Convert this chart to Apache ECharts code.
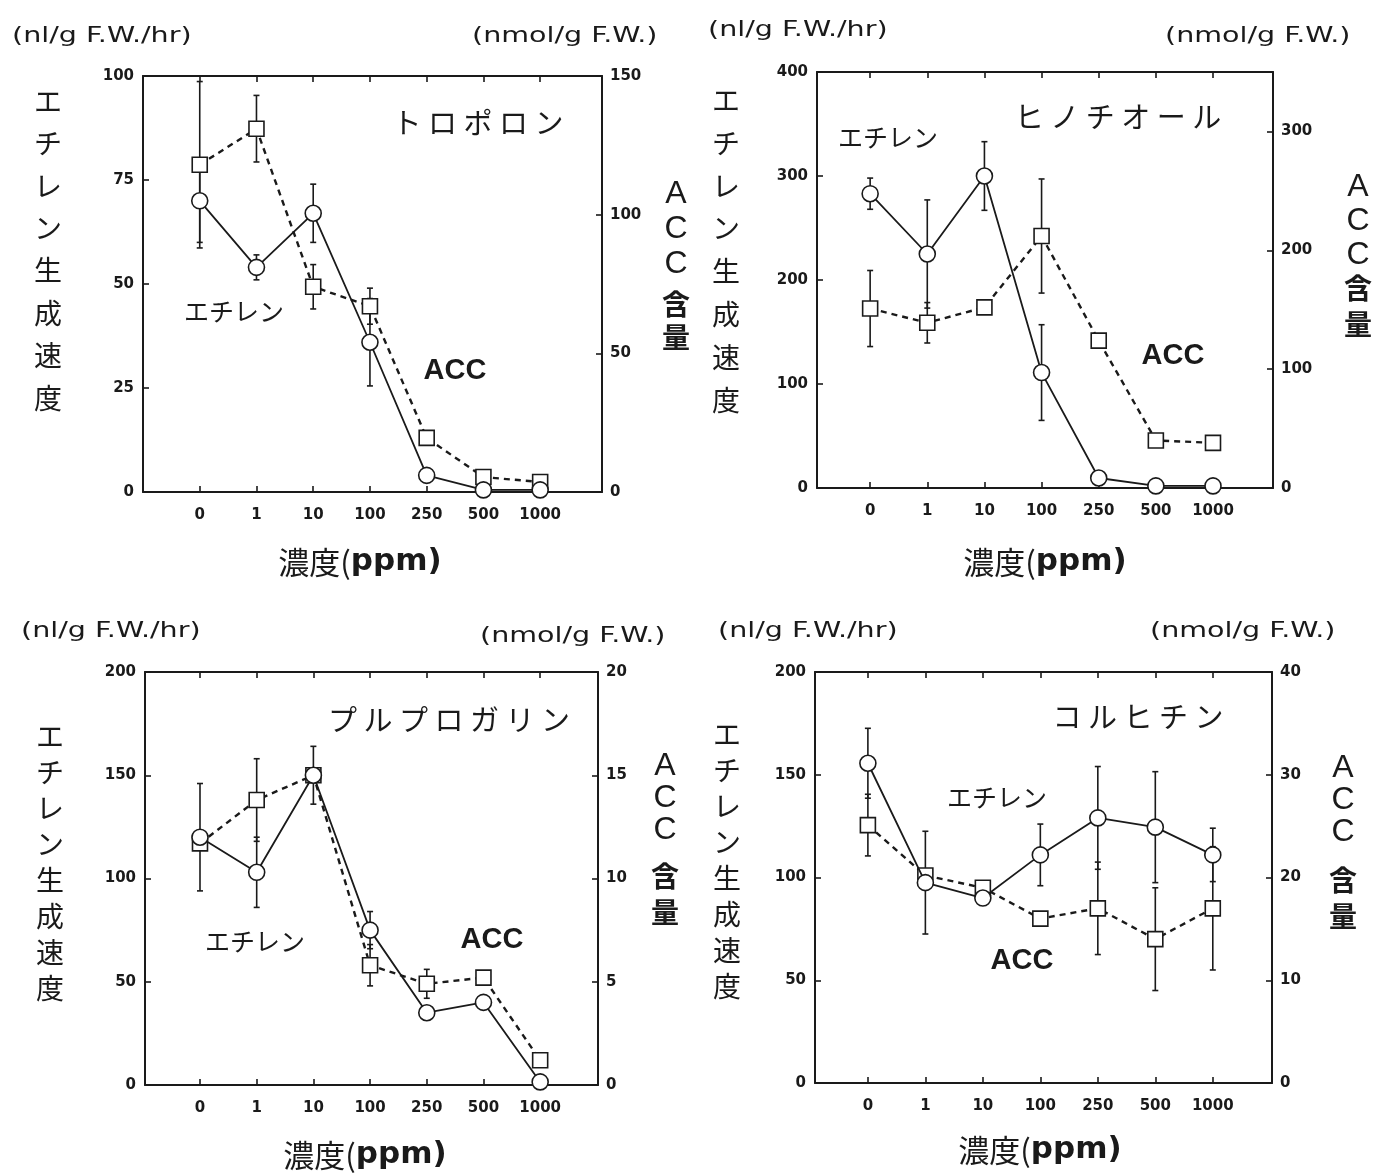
<!DOCTYPE html>
<html>
<head>
<meta charset="utf-8">
<script src="https://cdn.jsdelivr.net/npm/echarts@6/dist/echarts.min.js"></script>
<style>
html,body{margin:0;padding:0;background:#fff;}
#chart{width:1373px;height:1174px;}
</style>
</head>
<body>
<div id="chart"></div>
<script>
// ---- shared categories ----
const concs = ['0', '1', '10', '100', '250', '500', '1000'];
const xIdx = [0, 1, 2, 3, 4, 5, 6];

// ---- Panel 1: トロポロン ----
const tropEth = [70, 54, 67, 36, 4, 0.5, 0.5];
const tropEthErr = [10, 3, 7, 10.5, 0, 0, 0];
const tropAcc = [118, 131, 74, 67, 19.5, 5.4, 3.6];
const tropAccErr = [30, 12, 8, 6.5, 0, 0, 0];
const tropEthTicks = [0, 25, 50, 75, 100];
const tropAccTicks = [0, 50, 100, 150];

// ---- Panel 2: ヒノチオール ----
const hinoEth = [283, 225, 300, 111, 9.6, 2, 2];
const hinoEthErr = [15, 52, 33, 46, 0, 0, 0];
const hinoAcc = [151, 139, 152, 212, 124, 40, 38];
const hinoAccErr = [32, 17, 0, 48, 0, 0, 0];
const hinoEthTicks = [0, 100, 200, 300, 400];
const hinoAccTicks = [0, 100, 200, 300];

// ---- Panel 3: プルプロガリン ----
const purpEth = [120, 103, 150, 75, 35, 40, 1.5];
const purpEthErr = [26, 17, 14, 9, 0, 0, 0];
const purpAcc = [11.7, 13.8, 15.0, 5.8, 4.9, 5.2, 1.2];
const purpAccErr = [0, 2, 0, 1, 0.7, 0, 0];
const purpEthTicks = [0, 50, 100, 150, 200];
const purpAccTicks = [0, 5, 10, 15, 20];

// ---- Panel 4: コルヒチン ----
const colcEth = [155.6, 97.5, 90, 111, 129, 124.5, 111];
const colcEthErr = [17, 25, 0, 15, 25, 27, 13];
const colcAcc = [25.1, 20.2, 19.0, 16.0, 17.0, 14.0, 17.0];
const colcAccErr = [3, 0, 0, 0, 4.5, 5, 6];
const colcEthTicks = [0, 50, 100, 150, 200];
const colcAccTicks = [0, 10, 20, 30, 40];

const INK = '#1a1a1a';
const panels = [
  {grid: {left: 143, top: 76, width: 459, height: 416}, xMin: -1.0, xMax: 7.09, ethMax: 100, accMax: 150,
   ethTicks: tropEthTicks, accTicks: tropAccTicks, eth: tropEth, ethErr: tropEthErr, acc: tropAcc, accErr: tropAccErr},
  {grid: {left: 817, top: 72, width: 456, height: 416}, xMin: -0.93, xMax: 7.05, ethMax: 400, accMax: 350,
   ethTicks: hinoEthTicks, accTicks: hinoAccTicks, eth: hinoEth, ethErr: hinoEthErr, acc: hinoAcc, accErr: hinoAccErr},
  {grid: {left: 145, top: 672, width: 453, height: 413}, xMin: -0.97, xMax: 7.02, ethMax: 200, accMax: 20,
   ethTicks: purpEthTicks, accTicks: purpAccTicks, eth: purpEth, ethErr: purpEthErr, acc: purpAcc, accErr: purpAccErr},
  {grid: {left: 815, top: 672, width: 457, height: 411}, xMin: -0.92, xMax: 7.03, ethMax: 200, accMax: 40,
   ethTicks: colcEthTicks, accTicks: colcAccTicks, eth: colcEth, ethErr: colcEthErr, acc: colcAcc, accErr: colcAccErr}
];

const tickFont = {fontFamily: 'DejaVu Sans', fontWeight: 'bold', fontSize: 15, color: INK};
const grids = [], xAxes = [], yAxes = [], series = [];

function errRender(params, api) {
  const x = api.value(0);
  const lo = api.coord([x, api.value(1)]);
  const hi = api.coord([x, api.value(2)]);
  const c = 3;
  const st = {stroke: INK, lineWidth: 1.6};
  return {type: 'group', children: [
    {type: 'line', shape: {x1: lo[0], y1: lo[1], x2: hi[0], y2: hi[1]}, style: st},
    {type: 'line', shape: {x1: lo[0] - c, y1: lo[1], x2: lo[0] + c, y2: lo[1]}, style: st},
    {type: 'line', shape: {x1: hi[0] - c, y1: hi[1], x2: hi[0] + c, y2: hi[1]}, style: st}
  ]};
}

panels.forEach((p, g) => {
  grids.push(Object.assign({containLabel: false}, p.grid));
  ['bottom', 'top'].forEach(pos => {
    xAxes.push({
      type: 'value', gridIndex: g, position: pos, min: p.xMin, max: p.xMax,
      axisLine: {show: true, onZero: false, lineStyle: {color: INK, width: 2}},
      axisTick: {show: true, inside: true, length: 6, customValues: xIdx, lineStyle: {color: INK, width: 1.6}},
      axisLabel: pos === 'bottom'
        ? Object.assign({show: true, customValues: xIdx, margin: 16, formatter: v => concs[Math.round(v)]}, tickFont)
        : {show: false},
      splitLine: {show: false}
    });
  });
  [['left', p.ethMax, p.ethTicks], ['right', p.accMax, p.accTicks]].forEach(([pos, mx, ticks]) => {
    yAxes.push({
      type: 'value', gridIndex: g, position: pos, min: 0, max: mx,
      axisLine: {show: true, onZero: false, lineStyle: {color: INK, width: 2}},
      axisTick: {show: true, inside: true, length: 6, customValues: ticks, lineStyle: {color: INK, width: 1.6}},
      axisLabel: Object.assign({show: true, customValues: ticks, margin: pos === 'left' ? 9 : 8}, tickFont),
      splitLine: {show: false}
    });
  });
  const xa = g * 2, yl = g * 2, yr = g * 2 + 1;
  const errData = (v, e) => xIdx.filter(i => e[i] > 0).map(i => [i, v[i] - e[i], v[i] + e[i]]);
  series.push({type: 'custom', xAxisIndex: xa, yAxisIndex: yr, renderItem: errRender,
    encode: {x: 0, y: [1, 2]}, data: errData(p.acc, p.accErr), z: 1, silent: true});
  series.push({type: 'custom', xAxisIndex: xa, yAxisIndex: yl, renderItem: errRender,
    encode: {x: 0, y: [1, 2]}, data: errData(p.eth, p.ethErr), z: 1, silent: true});
  series.push({type: 'line', name: 'ACC', xAxisIndex: xa, yAxisIndex: yr,
    data: xIdx.map(i => [i, p.acc[i]]), symbol: 'rect', symbolSize: 15, showAllSymbol: true,
    itemStyle: {color: '#fff', borderColor: INK, borderWidth: 1.6},
    lineStyle: {color: INK, width: 2.4, type: [6, 5]}, z: 2});
  series.push({type: 'line', name: 'エチレン', xAxisIndex: xa, yAxisIndex: yl,
    data: xIdx.map(i => [i, p.eth[i]]), symbol: 'circle', symbolSize: 16, showAllSymbol: true,
    itemStyle: {color: '#fff', borderColor: INK, borderWidth: 1.6},
    lineStyle: {color: INK, width: 1.8, type: 'solid'}, z: 3});
});

// ---- text graphics ----
const CJK = '"Noto Sans CJK JP"';
function txt(x, y, text, st, extra) {
  const style = Object.assign({text: text, fill: INK, align: 'center', verticalAlign: 'middle',
    textAlign: 'center', textVerticalAlign: 'middle'}, st || {});
  return Object.assign({type: 'text', x: x, y: y, style: style, z: 10}, extra || {});
}
function unit(x, y, text) {
  return txt(x, y, text, {fontFamily: 'DejaVu Sans', fontSize: 21, align: 'left', textAlign: 'left'}, {scaleX: 1.36});
}
function vertName(x, top, step) {
  return txt(x, top, 'エ\nチ\nレ\nン\n生\n成\n速\n度', {fontFamily: CJK, fontSize: 28, lineHeight: step,
    verticalAlign: 'top', textVerticalAlign: 'top'});
}
function accName(x, top, step1, top2, step2) {
  return [
    txt(x, top, 'A\nC\nC', {fontFamily: '"Liberation Sans"', fontSize: 32, lineHeight: step1,
      verticalAlign: 'top', textVerticalAlign: 'top'}),
    txt(x, top2, '含\n量', {fontFamily: CJK, fontWeight: 'bold', fontSize: 28, lineHeight: step2,
      verticalAlign: 'top', textVerticalAlign: 'top'})
  ];
}
function xName(cx, cy) {
  return txt(cx, cy, '{a|濃度(}{b|ppm)}', {rich: {
    a: {fontFamily: CJK, fontSize: 31, fill: INK, color: INK},
    b: {fontFamily: 'DejaVu Sans', fontWeight: 'bold', fontSize: 31, fill: INK, color: INK}}});
}
function title(cx, cy, text) {
  return txt(cx, cy, text, {fontFamily: CJK, fontWeight: 'normal', fontSize: 29});
}
function ethLbl(cx, cy) { return txt(cx, cy, 'エチレン', {fontFamily: CJK, fontSize: 25}); }
function accLbl(cx, cy) { return txt(cx, cy, 'ACC', {fontFamily: '"Liberation Sans"', fontWeight: 'bold', fontSize: 29}); }

const graphics = [
  // panel 1
  unit(12, 37, '(nl/g F.W./hr)'), unit(472, 37, '(nmol/g F.W.)'),
  vertName(48, 80, 42.4), ...accName(676, 177, 35, 288, 33),
  title(478, 123, 'ト ロ ポ ロ ン'), ethLbl(234, 311), accLbl(455, 371), xName(360, 562),
  // panel 2
  unit(708, 31, '(nl/g F.W./hr)'), unit(1165, 37, '(nmol/g F.W.)'),
  vertName(726, 79, 42.8), ...accName(1358, 170, 34, 270, 36),
  title(1118, 117, 'ヒ ノ チ オ ー ル'), ethLbl(888, 137), accLbl(1173, 356), xName(1045, 562),
  // panel 3
  unit(21, 632, '(nl/g F.W./hr)'), unit(480, 637, '(nmol/g F.W.)'),
  vertName(50, 718, 36), ...accName(665, 750, 32, 858, 36),
  title(449, 720, 'プ ル プ ロ ガ リ ン'), ethLbl(255, 941), accLbl(492, 940), xName(365, 1155),
  // panel 4
  unit(718, 632, '(nl/g F.W./hr)'), unit(1150, 632, '(nmol/g F.W.)'),
  vertName(727, 716, 36), ...accName(1343, 752, 32, 862, 36),
  title(1138, 717, 'コ ル ヒ チ ン'), ethLbl(997, 797), accLbl(1022, 961), xName(1040, 1150)
];

const chart = echarts.init(document.getElementById('chart'), null, {renderer: 'canvas'});
chart.setOption({
  backgroundColor: '#fff',
  animation: false,
  grid: grids,
  xAxis: xAxes,
  yAxis: yAxes,
  series: series,
  graphic: {elements: graphics}
});
</script>
</body>
</html>
